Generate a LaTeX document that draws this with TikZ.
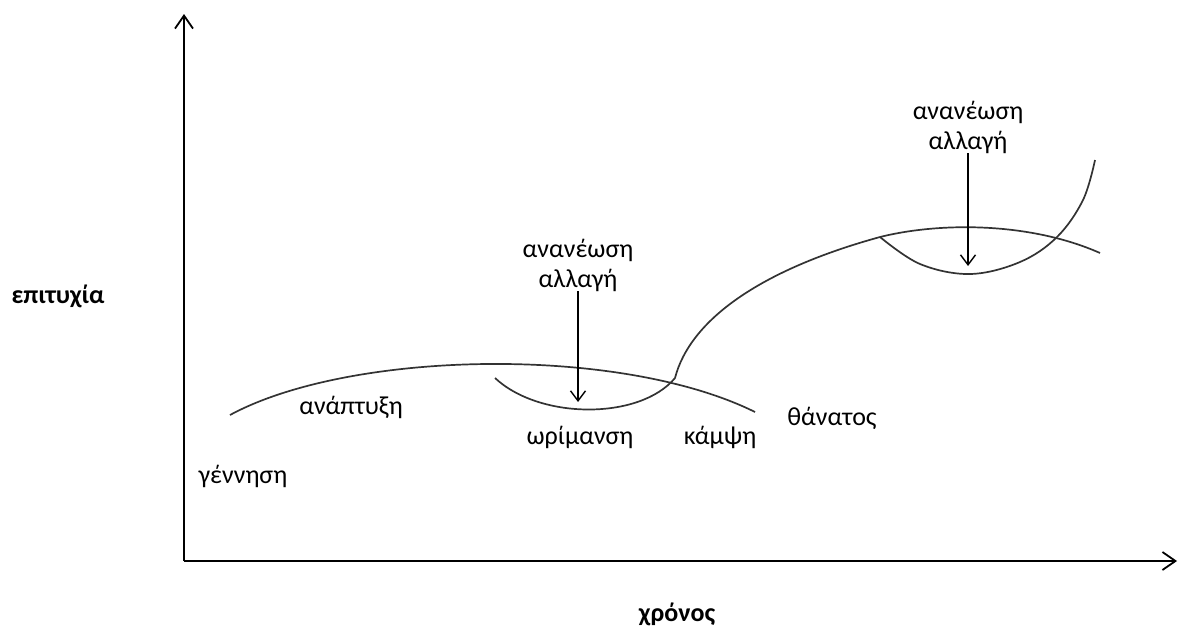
\documentclass[tikz,border=0pt]{standalone}
\usepackage{fontspec}
\setmainfont{Carlito}
\usetikzlibrary{positioning, arrows.meta}

\begin{document}
\begin{tikzpicture}[x=1pt, y=-1pt,
  axis/.style={line width=1.8pt, -{Straight Barb[length=13pt, width=18pt, line width=1.8pt]}},
  curve/.style={line width=1.7pt, black!80},
  marker/.style={line width=1.4pt, -{Straight Barb[length=10pt, width=15pt, line width=1.4pt]}},
  lbl/.style={font=\fontsize{26}{30}\selectfont, inner sep=0pt},
  axlbl/.style={font=\fontsize{26}{30}\selectfont\bfseries, inner sep=0pt}]
\useasboundingbox (0,0) rectangle (1182,630);

% axes
\coordinate (origin) at (184,561);
\coordinate (ytop) at (184,14);
\coordinate (xend) at (1177,561);
\draw[axis] (origin) -- (ytop);
\draw[axis] (origin) -- (xend);
\node[axlbl] (success) at (58,296) {επιτυχία};
\node[axlbl] (time) at (677,614) {χρόνος};

% life cycle curves
\draw[curve] (230,415) .. controls (350,350) and (620,345) .. (755,412);
\draw[curve] (495,378) .. controls (540,420) and (640,420) .. (675,378)
  .. controls (690,320) and (760,270) .. (880,237)
  .. controls (940,222) and (1030,222) .. (1100,253);
\draw[curve] plot[smooth, tension=0.6] coordinates
  {(880,237) (920,264) (970,274) (1020,262) (1057,237) (1083,200) (1095,160)};

% stage labels
\node[lbl] (birth) at (243,476) {γέννηση};
\node[lbl] (growth) at (351,407) {ανάπτυξη};
\node[lbl] (mature) at (580,437) {ωρίμανση};
\node[lbl] (decline) at (720,437) {κάμψη};
\node[lbl] (death) at (832,418) {θάνατος};

% renewal
\node[lbl, align=center] (renew1) at (578,265) {ανανέωση\\αλλαγή};
\coordinate (dip1) at (578,402);
\draw[marker] (renew1) -- (dip1);
\node[lbl, align=center] (renew2) at (968,127) {ανανέωση\\αλλαγή};
\coordinate (dip2) at (968,266);
\draw[marker] (renew2) -- (dip2);
\end{tikzpicture}
\end{document}
